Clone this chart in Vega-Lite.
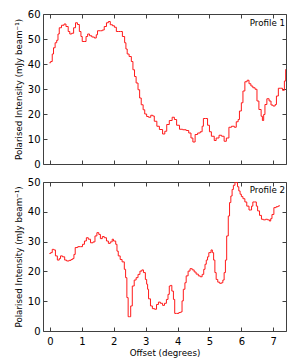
{
  "$schema": "https://vega.github.io/schema/vega-lite/v6.json",
  "padding": {"left": 13, "top": 8, "right": 10, "bottom": 5},
  "datasets": {
    "p1": [
      {"x": -0.02, "y": 40.5}, {"x": 0.02, "y": 41}, {"x": 0.07, "y": 44}, {"x": 0.11, "y": 46.5}, {"x": 0.16, "y": 48.5}, {"x": 0.21, "y": 49.5}, {"x": 0.25, "y": 52}, {"x": 0.29, "y": 54.5}, {"x": 0.36, "y": 55.5}, {"x": 0.44, "y": 56}, {"x": 0.5, "y": 55}, {"x": 0.57, "y": 53}, {"x": 0.62, "y": 52}, {"x": 0.68, "y": 52.3}, {"x": 0.74, "y": 54.5}, {"x": 0.8, "y": 56.5}, {"x": 0.86, "y": 55.8}, {"x": 0.92, "y": 53}, {"x": 0.97, "y": 51}, {"x": 1.01, "y": 49}, {"x": 1.07, "y": 49}, {"x": 1.13, "y": 51}, {"x": 1.18, "y": 52}, {"x": 1.24, "y": 51.3}, {"x": 1.31, "y": 50.8}, {"x": 1.39, "y": 50.4}, {"x": 1.45, "y": 51.7}, {"x": 1.49, "y": 53.3}, {"x": 1.58, "y": 53.3}, {"x": 1.64, "y": 53.6}, {"x": 1.7, "y": 55}, {"x": 1.77, "y": 56.5}, {"x": 1.83, "y": 57}, {"x": 1.89, "y": 55.7}, {"x": 1.96, "y": 55.3}, {"x": 2.02, "y": 54.7}, {"x": 2.08, "y": 53}, {"x": 2.14, "y": 53}, {"x": 2.21, "y": 53}, {"x": 2.27, "y": 51}, {"x": 2.34, "y": 48.5}, {"x": 2.38, "y": 46}, {"x": 2.42, "y": 44}, {"x": 2.48, "y": 43}, {"x": 2.55, "y": 41}, {"x": 2.6, "y": 37.7}, {"x": 2.65, "y": 35}, {"x": 2.7, "y": 32.4}, {"x": 2.76, "y": 29.7}, {"x": 2.81, "y": 26.4}, {"x": 2.86, "y": 23.7}, {"x": 2.92, "y": 21.7}, {"x": 2.97, "y": 20}, {"x": 3.03, "y": 19}, {"x": 3.09, "y": 18.7}, {"x": 3.16, "y": 19.5}, {"x": 3.22, "y": 19.2}, {"x": 3.27, "y": 17.1}, {"x": 3.35, "y": 15.1}, {"x": 3.43, "y": 13.8}, {"x": 3.53, "y": 12}, {"x": 3.6, "y": 13.1}, {"x": 3.66, "y": 15.8}, {"x": 3.74, "y": 17.4}, {"x": 3.83, "y": 18.7}, {"x": 3.9, "y": 17.8}, {"x": 3.97, "y": 15.5}, {"x": 4.06, "y": 13.9}, {"x": 4.16, "y": 13.7}, {"x": 4.27, "y": 13.4}, {"x": 4.35, "y": 12.4}, {"x": 4.42, "y": 10.4}, {"x": 4.48, "y": 8.8}, {"x": 4.55, "y": 11.8}, {"x": 4.63, "y": 12.4}, {"x": 4.71, "y": 12.9}, {"x": 4.77, "y": 15.1}, {"x": 4.81, "y": 18.2}, {"x": 4.87, "y": 18.2}, {"x": 4.94, "y": 15.5}, {"x": 5.0, "y": 12.9}, {"x": 5.06, "y": 11.1}, {"x": 5.15, "y": 9.4}, {"x": 5.21, "y": 10.4}, {"x": 5.3, "y": 11.5}, {"x": 5.38, "y": 11.1}, {"x": 5.46, "y": 9.1}, {"x": 5.53, "y": 10.4}, {"x": 5.61, "y": 14.7}, {"x": 5.69, "y": 15.1}, {"x": 5.78, "y": 14.7}, {"x": 5.84, "y": 16.9}, {"x": 5.9, "y": 17.8}, {"x": 5.94, "y": 21.2}, {"x": 6.0, "y": 24.5}, {"x": 6.05, "y": 29.2}, {"x": 6.11, "y": 32.9}, {"x": 6.18, "y": 33.5}, {"x": 6.24, "y": 32.1}, {"x": 6.3, "y": 31.2}, {"x": 6.36, "y": 30.5}, {"x": 6.43, "y": 29.9}, {"x": 6.49, "y": 25.2}, {"x": 6.55, "y": 21.8}, {"x": 6.62, "y": 19.1}, {"x": 6.66, "y": 17.4}, {"x": 6.7, "y": 19.8}, {"x": 6.74, "y": 23.8}, {"x": 6.8, "y": 26.1}, {"x": 6.87, "y": 25.2}, {"x": 6.93, "y": 23.6}, {"x": 6.99, "y": 23.2}, {"x": 7.06, "y": 23.8}, {"x": 7.1, "y": 27.2}, {"x": 7.16, "y": 30.3}, {"x": 7.22, "y": 30.3}, {"x": 7.29, "y": 29.5}, {"x": 7.35, "y": 33.2}, {"x": 7.39, "y": 37.9}
    ],
    "p2": [
      {"x": -0.02, "y": 26}, {"x": 0.02, "y": 26.3}, {"x": 0.07, "y": 27.4}, {"x": 0.12, "y": 27.2}, {"x": 0.17, "y": 25.2}, {"x": 0.23, "y": 23.8}, {"x": 0.29, "y": 24.3}, {"x": 0.33, "y": 25.2}, {"x": 0.39, "y": 24.9}, {"x": 0.46, "y": 23.8}, {"x": 0.52, "y": 23.5}, {"x": 0.6, "y": 23.7}, {"x": 0.66, "y": 24}, {"x": 0.71, "y": 24.3}, {"x": 0.75, "y": 25.7}, {"x": 0.79, "y": 28}, {"x": 0.87, "y": 28.3}, {"x": 0.96, "y": 28.3}, {"x": 1.02, "y": 29.1}, {"x": 1.08, "y": 30.2}, {"x": 1.14, "y": 31.3}, {"x": 1.2, "y": 30.8}, {"x": 1.27, "y": 29.6}, {"x": 1.35, "y": 29.9}, {"x": 1.41, "y": 31.9}, {"x": 1.47, "y": 33}, {"x": 1.53, "y": 32.4}, {"x": 1.58, "y": 31}, {"x": 1.64, "y": 31.7}, {"x": 1.7, "y": 31.3}, {"x": 1.77, "y": 30.2}, {"x": 1.83, "y": 29.4}, {"x": 1.89, "y": 29.9}, {"x": 1.95, "y": 30.8}, {"x": 1.99, "y": 30.2}, {"x": 2.06, "y": 29.1}, {"x": 2.1, "y": 26.8}, {"x": 2.14, "y": 25.2}, {"x": 2.2, "y": 24}, {"x": 2.26, "y": 23.2}, {"x": 2.33, "y": 20.7}, {"x": 2.37, "y": 17.9}, {"x": 2.41, "y": 11.2}, {"x": 2.45, "y": 4.8}, {"x": 2.49, "y": 4.8}, {"x": 2.53, "y": 8.4}, {"x": 2.58, "y": 15.1}, {"x": 2.64, "y": 17.1}, {"x": 2.7, "y": 17.9}, {"x": 2.76, "y": 19}, {"x": 2.82, "y": 20.1}, {"x": 2.88, "y": 20.5}, {"x": 2.93, "y": 19.6}, {"x": 2.99, "y": 17.3}, {"x": 3.03, "y": 15.7}, {"x": 3.06, "y": 14}, {"x": 3.09, "y": 10.8}, {"x": 3.15, "y": 8.4}, {"x": 3.21, "y": 7.5}, {"x": 3.28, "y": 7.3}, {"x": 3.34, "y": 8.9}, {"x": 3.4, "y": 9.7}, {"x": 3.46, "y": 9.3}, {"x": 3.53, "y": 8.6}, {"x": 3.59, "y": 9.3}, {"x": 3.65, "y": 10.6}, {"x": 3.7, "y": 12.3}, {"x": 3.74, "y": 15.1}, {"x": 3.78, "y": 15.3}, {"x": 3.82, "y": 13.4}, {"x": 3.87, "y": 10.6}, {"x": 3.91, "y": 5.9}, {"x": 3.97, "y": 5.9}, {"x": 4.04, "y": 6.2}, {"x": 4.1, "y": 6.4}, {"x": 4.14, "y": 10.1}, {"x": 4.18, "y": 14}, {"x": 4.23, "y": 16.2}, {"x": 4.27, "y": 18.5}, {"x": 4.33, "y": 20.1}, {"x": 4.39, "y": 20.9}, {"x": 4.46, "y": 20.5}, {"x": 4.52, "y": 19.8}, {"x": 4.58, "y": 19.1}, {"x": 4.65, "y": 18.5}, {"x": 4.71, "y": 18.2}, {"x": 4.77, "y": 19}, {"x": 4.82, "y": 20.7}, {"x": 4.86, "y": 22.4}, {"x": 4.9, "y": 23.8}, {"x": 4.94, "y": 24.9}, {"x": 4.98, "y": 26.3}, {"x": 5.05, "y": 27.2}, {"x": 5.09, "y": 26.3}, {"x": 5.13, "y": 23.8}, {"x": 5.17, "y": 19.6}, {"x": 5.21, "y": 17.3}, {"x": 5.26, "y": 16.4}, {"x": 5.32, "y": 16}, {"x": 5.38, "y": 16.2}, {"x": 5.42, "y": 17.1}, {"x": 5.46, "y": 19.6}, {"x": 5.5, "y": 23.8}, {"x": 5.54, "y": 31.9}, {"x": 5.59, "y": 38.6}, {"x": 5.63, "y": 43.1}, {"x": 5.67, "y": 45.3}, {"x": 5.71, "y": 47.5}, {"x": 5.75, "y": 48.9}, {"x": 5.8, "y": 50}, {"x": 5.84, "y": 49.8}, {"x": 5.88, "y": 48.4}, {"x": 5.92, "y": 47}, {"x": 5.96, "y": 45.9}, {"x": 6.0, "y": 45.1}, {"x": 6.05, "y": 44.4}, {"x": 6.11, "y": 43.3}, {"x": 6.17, "y": 41.9}, {"x": 6.24, "y": 40.6}, {"x": 6.28, "y": 40.6}, {"x": 6.32, "y": 41.9}, {"x": 6.36, "y": 43.3}, {"x": 6.42, "y": 43.3}, {"x": 6.47, "y": 41.9}, {"x": 6.51, "y": 40.3}, {"x": 6.57, "y": 38.8}, {"x": 6.63, "y": 37.5}, {"x": 6.69, "y": 37.3}, {"x": 6.76, "y": 37.5}, {"x": 6.82, "y": 37.3}, {"x": 6.88, "y": 36.9}, {"x": 6.92, "y": 37.7}, {"x": 6.96, "y": 39.1}, {"x": 7.02, "y": 41.4}, {"x": 7.09, "y": 41.7}, {"x": 7.15, "y": 41.9}, {"x": 7.19, "y": 42.2}
    ]
  },
  "vconcat": [
    {
      "width": 243,
      "height": 150,
      "layer": [
        {
          "data": {"name": "p1"},
          "mark": {"type": "line", "interpolate": "step-after", "color": "#ff1a1a", "strokeWidth": 1, "clip": true},
          "encoding": {
            "x": {"field": "x", "type": "quantitative", "scale": {"domain": [-0.22, 7.4], "nice": false, "zero": false},
                  "axis": {"orient": "bottom", "values": [0,1,2,3,4,5,6,7], "labels": false, "title": null}},
            "y": {"field": "y", "type": "quantitative", "scale": {"domain": [0, 60], "nice": false},
                  "axis": {"orient": "left", "values": [0,10,20,30,40,50,60], "title": "Polarised Intensity (mJy beam⁻¹)"}}
          }
        },
        {
          "data": {"values": [{"label": "Profile 1"}]},
          "mark": {"type": "text", "align": "right", "baseline": "middle", "font": "DejaVu Sans", "fontSize": 8.7, "color": "#000"},
          "encoding": {
            "text": {"field": "label"},
            "x": {"datum": 7.37, "type": "quantitative", "scale": {"domain": [-0.22, 7.4], "nice": false, "zero": false},
                  "axis": {"orient": "top", "values": [0,1,2,3,4,5,6,7], "labels": false, "title": null}},
            "y": {"datum": 56.5, "type": "quantitative", "scale": {"domain": [0, 60], "nice": false},
                  "axis": {"orient": "right", "values": [0,10,20,30,40,50,60], "labels": false, "title": null}}
          }
        }
      ],
      "resolve": {"scale": {"x": "independent", "y": "independent"}, "axis": {"x": "independent", "y": "independent"}}
    },
    {
      "width": 243,
      "height": 149,
      "layer": [
        {
          "data": {"name": "p2"},
          "mark": {"type": "line", "interpolate": "step-after", "color": "#ff1a1a", "strokeWidth": 1, "clip": true},
          "encoding": {
            "x": {"field": "x", "type": "quantitative", "scale": {"domain": [-0.22, 7.4], "nice": false, "zero": false},
                  "axis": {"orient": "bottom", "values": [0,1,2,3,4,5,6,7], "title": "Offset (degrees)", "labelPadding": 9, "titlePadding": 2}},
            "y": {"field": "y", "type": "quantitative", "scale": {"domain": [0, 50], "nice": false},
                  "axis": {"orient": "left", "values": [0,10,20,30,40,50], "title": "Polarised Intensity (mJy beam⁻¹)"}}
          }
        },
        {
          "data": {"values": [{"label": "Profile 2"}]},
          "mark": {"type": "text", "align": "right", "baseline": "middle", "font": "DejaVu Sans", "fontSize": 8.7, "color": "#000"},
          "encoding": {
            "text": {"field": "label"},
            "x": {"datum": 7.37, "type": "quantitative", "scale": {"domain": [-0.22, 7.4], "nice": false, "zero": false},
                  "axis": {"orient": "top", "values": [0,1,2,3,4,5,6,7], "labels": false, "title": null}},
            "y": {"datum": 47.3, "type": "quantitative", "scale": {"domain": [0, 50], "nice": false},
                  "axis": {"orient": "right", "values": [0,10,20,30,40,50], "labels": false, "title": null}}
          }
        }
      ],
      "resolve": {"scale": {"x": "independent", "y": "independent"}, "axis": {"x": "independent", "y": "independent"}}
    }
  ],
  "spacing": 6,
  "config": {
    "view": {"stroke": "#404040", "strokeWidth": 1},
    "axis": {"domain": false, "grid": false, "ticks": true, "tickSize": -4, "tickColor": "#404040",
             "labelFont": "DejaVu Sans", "labelFontSize": 10, "labelColor": "#000", "labelPadding": 7,
             "titleFont": "DejaVu Sans", "titleFontSize": 8.7, "titleFontWeight": "normal", "titleColor": "#000", "titlePadding": 4}
  }
}
